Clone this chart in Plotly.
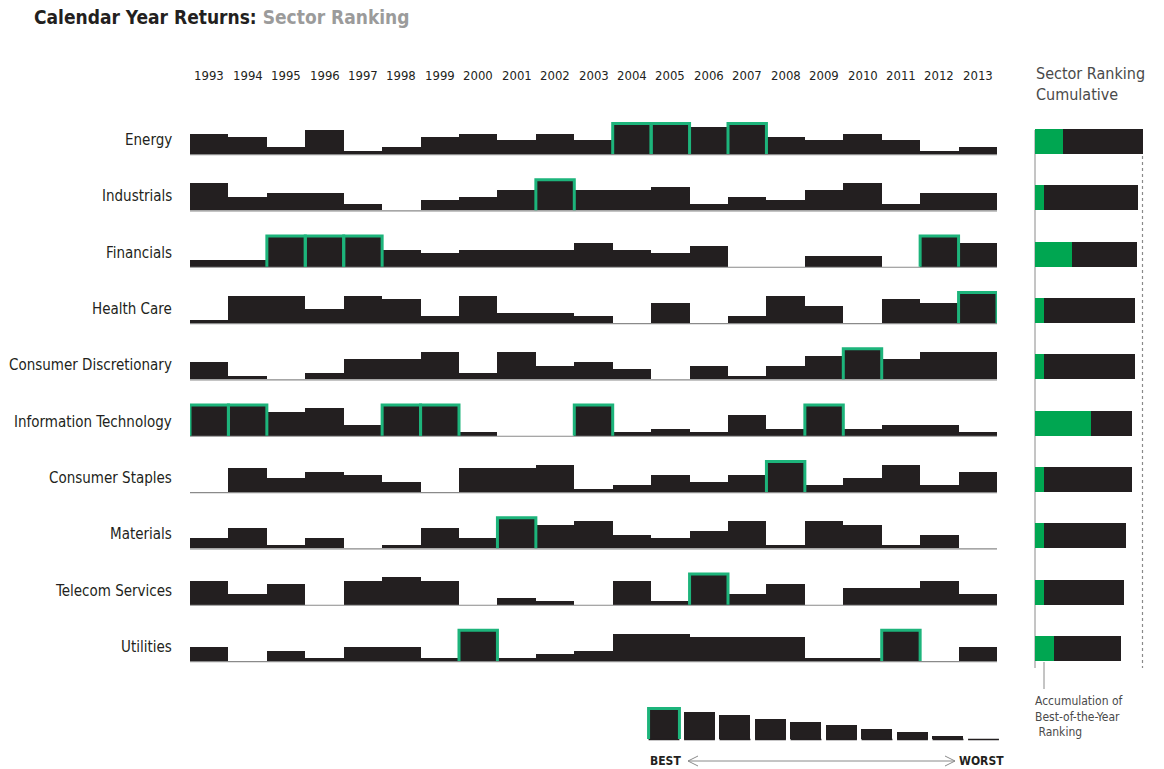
import plotly.graph_objects as go

W, H = 1164, 769
FONT = "Liberation Sans Narrow, DejaVu Sans Condensed, Arial Narrow, sans-serif"
BLACK = "#231f20"
GREEN_LINE = "#1db47b"
GREEN_FILL = "#00a651"
GREY = "#8a8a8a"

years = list(range(1993, 2014))
sectors = ["Energy", "Industrials", "Financials", "Health Care", "Consumer Discretionary",
           "Information Technology", "Consumer Staples", "Materials", "Telecom Services", "Utilities"]

# yearly rank of each sector (1 = best, 10 = worst)
energy = [4, 5, 8, 3, 9, 8, 5, 4, 6, 4, 6, 1, 1, 2, 1, 5, 6, 4, 6, 9, 8]
industrials = [2, 6, 5, 5, 8, 10, 7, 6, 4, 1, 4, 4, 3, 8, 6, 7, 4, 2, 8, 5, 5]
financials = [8, 8, 1, 1, 1, 5, 6, 5, 5, 5, 3, 5, 6, 4, 10, 10, 7, 7, 10, 1, 3]
health_care = [9, 2, 2, 6, 2, 3, 8, 2, 7, 7, 8, 10, 4, 10, 8, 2, 5, 10, 3, 4, 1]
cons_disc = [5, 9, 10, 8, 4, 4, 2, 8, 2, 6, 5, 7, 10, 6, 9, 6, 3, 1, 4, 2, 2]
info_tech = [1, 1, 3, 2, 7, 1, 1, 9, 10, 10, 1, 9, 8, 9, 4, 8, 1, 8, 7, 7, 9]
cons_staples = [10, 3, 6, 4, 5, 7, 10, 3, 3, 2, 9, 8, 5, 7, 5, 1, 8, 6, 2, 8, 4]
materials = [7, 4, 9, 7, 10, 9, 4, 7, 1, 3, 2, 6, 7, 5, 2, 9, 2, 3, 9, 6, 10]
telecom = [3, 7, 4, 10, 3, 2, 3, 10, 8, 9, 10, 3, 9, 1, 7, 4, 10, 5, 5, 3, 7]
utilities = [6, 10, 7, 9, 6, 6, 9, 1, 9, 8, 7, 2, 2, 3, 3, 3, 9, 9, 1, 10, 6]
ranks = [energy, industrials, financials, health_care, cons_disc,
         info_tech, cons_staples, materials, telecom, utilities]

legend_ranks = list(range(1, 11))

# layout in pixels (y axis is -pixel so data maps straight to the page)
row_base = [154 + 56.33 * i for i in range(len(sectors))]
step = 3.4  # px per rank point


def hgt(r):
    return (10 - r) * step


fig = go.Figure()

# baselines
bx, by = [], []
for b in row_base:
    bx += [years[0] - 0.5, years[-1] + 0.5, None]
    by += [-b - 0.6, -b - 0.6, None]
fig.add_trace(go.Scatter(x=bx, y=by, mode="lines", line=dict(color=GREY, width=1.2),
                         hoverinfo="skip", showlegend=False))

# ranking bars
for name, rk, b in zip(sectors, ranks, row_base):
    fig.add_trace(go.Bar(x=years, y=[hgt(r) for r in rk], base=-b, width=1.0,
                         marker=dict(color=BLACK, line=dict(width=0)),
                         name=name, showlegend=False))

# best-of-year outlines
ox, oy = [], []
for rk, b in zip(ranks, row_base):
    for yr, r in zip(years, rk):
        if r == 1:
            top = -b + hgt(1)
            ox += [yr - 0.5, yr - 0.5, yr + 0.5, yr + 0.5, None]
            oy += [-b, top, top, -b, None]
fig.add_trace(go.Scatter(x=ox, y=oy, mode="lines", line=dict(color=GREEN_LINE, width=3),
                         hoverinfo="skip", showlegend=False))

# cumulative panel
score = [sum(10 - r for r in rk) for rk in ranks]
best_pts = [sum(9 for r in rk if r == 1) for rk in ranks]
rest = [s - g for s, g in zip(score, best_pts)]
cy = [-(b - 12.5) for b in row_base]
fig.add_trace(go.Bar(x=best_pts, y=cy, orientation="h", width=25, xaxis="x2",
                     marker=dict(color=GREEN_FILL, line=dict(width=0)), showlegend=False))
fig.add_trace(go.Bar(x=rest, y=cy, base=best_pts, orientation="h", width=25, xaxis="x2",
                     marker=dict(color=BLACK, line=dict(width=0)), showlegend=False))

# legend scale
leg_base = 739
fig.add_trace(go.Bar(x=legend_ranks, y=[hgt(r) for r in legend_ranks], base=-leg_base,
                     width=0.87, xaxis="x3",
                     marker=dict(color=BLACK, line=dict(width=0)), showlegend=False))
lx, ly = [], []
for r in legend_ranks:
    lx += [r - 0.435, r + 0.435, None]
    ly += [-leg_base - 0.5, -leg_base - 0.5, None]
fig.add_trace(go.Scatter(x=lx, y=ly, mode="lines", xaxis="x3", line=dict(color=BLACK, width=1.5),
                         hoverinfo="skip", showlegend=False))
gx = [legend_ranks[0] - 0.435, legend_ranks[0] - 0.435, legend_ranks[0] + 0.435, legend_ranks[0] + 0.435]
gy = [-leg_base, -leg_base + hgt(1), -leg_base + hgt(1), -leg_base]
fig.add_trace(go.Scatter(x=gx, y=gy, mode="lines", xaxis="x3", line=dict(color=GREEN_LINE, width=3),
                         hoverinfo="skip", showlegend=False))

ann = []
# year labels
for yr in years:
    ann.append(dict(x=yr, y=-75, xref="x", yref="y", text=str(yr), showarrow=False,
                    font=dict(size=13, color=BLACK)))
# sector labels
for name, b in zip(sectors, row_base):
    ann.append(dict(x=174 / W, y=-(b - 14), xref="paper", yref="y", text=name, showarrow=False,
                    xanchor="right", font=dict(size=15, color=BLACK)))

ann += [
    dict(x=32 / W, y=-17, xref="paper", yref="y", xanchor="left", showarrow=False,
         text="<b>Calendar Year Returns: </b><b style='color:#9b9b9b'>Sector Ranking</b>",
         font=dict(size=19, color=BLACK)),
    dict(x=1034 / W, y=-84, xref="paper", yref="y", xanchor="left", showarrow=False, align="left",
         text="Sector Ranking<br>Cumulative", font=dict(size=16, color="#4a4a4a")),
    dict(x=1033 / W, y=-716, xref="paper", yref="y", xanchor="left", showarrow=False, align="left",
         text="Accumulation of<br>Best-of-the-Year<br> Ranking", font=dict(size=12, color="#4a4a4a")),
    dict(x=648 / W, y=-761, xref="paper", yref="y", xanchor="left", showarrow=False,
         text="<b>BEST</b>", font=dict(size=12, color=BLACK)),
    dict(x=1006 / W, y=-761, xref="paper", yref="y", xanchor="right", showarrow=False,
         text="<b>WORST</b>", font=dict(size=12, color=BLACK)),
]


def px(x):
    return x / W


def py(y):
    return 1 - y / H


shapes = [
    # arrow between BEST and WORST
    dict(type="line", x0=px(688), x1=px(955), y0=py(761), y1=py(761), xref="paper", yref="paper",
         line=dict(color=GREY, width=1)),
    dict(type="path", xref="paper", yref="paper",
         path=f"M {px(698)},{py(756)} L {px(688)},{py(761)} L {px(698)},{py(766)}",
         line=dict(color=GREY, width=1)),
    dict(type="path", xref="paper", yref="paper",
         path=f"M {px(945)},{py(756)} L {px(955)},{py(761)} L {px(945)},{py(766)}",
         line=dict(color=GREY, width=1)),
    # cumulative panel axis and dotted max line
    dict(type="line", x0=px(1035), x1=px(1035), y0=py(130), y1=py(668), xref="paper", yref="paper",
         line=dict(color=GREY, width=1), layer="below"),
    dict(type="line", x0=px(1142.5), x1=px(1142.5), y0=py(156), y1=py(668), xref="paper", yref="paper",
         line=dict(color=GREY, width=1.2, dash="dot")),
    dict(type="line", x0=px(1044), x1=px(1044), y0=py(662), y1=py(689), xref="paper", yref="paper",
         line=dict(color=GREY, width=1)),
]

fig.update_layout(
    width=W, height=H, margin=dict(l=0, r=0, t=0, b=0),
    paper_bgcolor="white", plot_bgcolor="rgba(0,0,0,0)",
    font=dict(family=FONT, color=BLACK),
    barmode="overlay", bargap=0,
    xaxis=dict(domain=[190 / W, 997 / W], range=[1992.5, 2013.5], visible=False),
    xaxis2=dict(domain=[1035 / W, 1143 / W], range=[0, 105], anchor="y", visible=False),
    xaxis3=dict(domain=[646.25 / W, 1001.25 / W], range=[0.5, 10.5], anchor="y", visible=False),
    yaxis=dict(domain=[0, 1], range=[-H, 0], visible=False),
    annotations=ann, shapes=shapes, showlegend=False,
)

# drop the browser's default page margin so the figure sits at the window corner
fig.write_html("out.html", config={"displayModeBar": False},
               post_script="document.body.style.margin='0px';")
